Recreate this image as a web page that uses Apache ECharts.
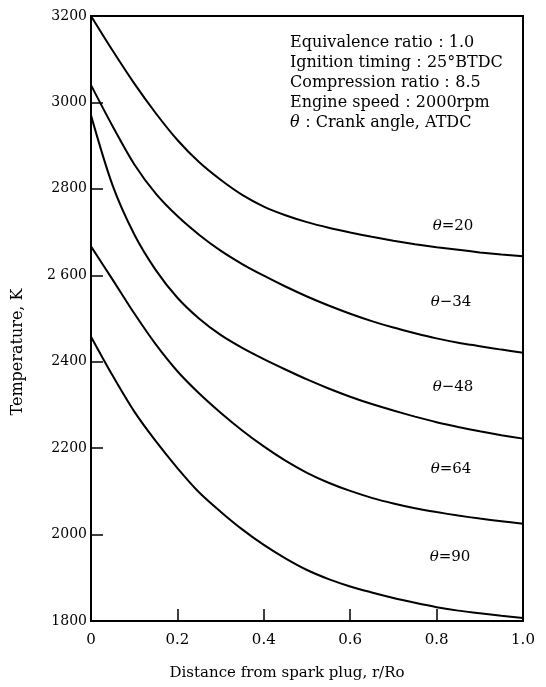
<!DOCTYPE html>
<html>
<head>
<meta charset="utf-8">
<script src="https://cdn.jsdelivr.net/npm/echarts@6/dist/echarts.min.js"></script>
<style>html,body{margin:0;padding:0;background:#fff;}#c{width:546px;height:687px;}</style>
</head>
<body>
<div id="c"></div>
<script>
// Distance from spark plug r/Ro (shared) and temperature K for each crank angle
const rVals = [0, 0.05, 0.1, 0.15, 0.2, 0.25, 0.3, 0.35, 0.4, 0.45, 0.5, 0.55, 0.6, 0.65, 0.7, 0.75, 0.8, 0.85, 0.9, 0.95, 1.0];
const t20 = [3200, 3120, 3044, 2975, 2913, 2862, 2821, 2786, 2759, 2739, 2723, 2710, 2699, 2689, 2680, 2672, 2665, 2659, 2653, 2648, 2644];
const t34 = [3040, 2945, 2857, 2789, 2737, 2694, 2657, 2626, 2599, 2574, 2551, 2530, 2511, 2494, 2479, 2466, 2454, 2444, 2436, 2428, 2421];
const t48 = [2970, 2808, 2695, 2612, 2548, 2500, 2462, 2432, 2406, 2382, 2359, 2338, 2319, 2302, 2287, 2273, 2260, 2249, 2239, 2230, 2222];
const t64 = [2667, 2590, 2512, 2440, 2378, 2327, 2282, 2241, 2204, 2171, 2143, 2120, 2101, 2085, 2072, 2061, 2052, 2044, 2037, 2031, 2025];
const t90 = [2458, 2368, 2285, 2216, 2154, 2098, 2053, 2012, 1976, 1945, 1918, 1897, 1880, 1866, 1853, 1842, 1832, 1824, 1818, 1812, 1807];

const xTicks = [0, 0.2, 0.4, 0.6, 0.8, 1.0];
const xTickLabels = ['0', '0.2', '0.4', '0.6', '0.8', '1.0'];
const yTicks = [1800, 2000, 2200, 2400, 2600, 2800, 3000, 3200];
const yTickLabels = ['1800', '2000', '2200', '2400', '2 600', '2800', '3000', '3200'];

const curveLabels = ['θ=20', 'θ−34', 'θ−48', 'θ=64', 'θ=90'];
const infoLines = ['Equivalence ratio：1.0', 'Ignition timing：25°BTDC', 'Compression ratio：8.5', 'Engine speed：2000rpm'];
const infoLast = 'Crank angle, ATDC';
const xName = 'Distance from spark plug, r/Ro';
const yName = 'Temperature, K';

const FONT = 'DejaVu Serif';
function pairs(r, t) { return r.map((v, i) => [v, t[i]]); }
const curves = [t20, t34, t48, t64, t90];

const chart = echarts.init(document.getElementById('c'), null, { renderer: 'canvas' });

const labelPos = [[453, 226], [451, 302], [453, 387], [451, 469], [450, 557]];

const option = {
  backgroundColor: '#fff',
  animation: false,
  grid: { left: 91, right: 23, top: 16, bottom: 66, show: true, borderColor: '#000', borderWidth: 2, backgroundColor: 'transparent' },
  xAxis: {
    type: 'value', min: 0, max: 1, interval: 0.2,
    axisLine: { show: true, lineStyle: { color: '#000', width: 2 } },
    axisTick: { show: true, inside: true, length: 12, lineStyle: { color: '#000', width: 1.5 } },
    splitLine: { show: false },
    axisLabel: {
      color: '#000', fontFamily: FONT, fontSize: 15, margin: 12,
      formatter: v => { const i = xTicks.findIndex(t => Math.abs(t - v) < 1e-6); return i >= 0 ? xTickLabels[i] : ''; }
    }
  },
  yAxis: {
    type: 'value', min: 1800, max: 3200, interval: 200,
    axisLine: { show: true, lineStyle: { color: '#000', width: 2 } },
    axisTick: { show: true, inside: true, length: 12, lineStyle: { color: '#000', width: 1.5 } },
    splitLine: { show: false },
    axisLabel: {
      color: '#000', fontFamily: FONT, fontSize: 14, margin: 4,
      formatter: v => { const i = yTicks.indexOf(v); return i >= 0 ? yTickLabels[i] : ''; }
    }
  },
  series: curves.map(t => ({
    type: 'line', data: pairs(rVals, t), smooth: 0.3, symbol: 'none',
    lineStyle: { color: '#000', width: 2 }
  })),
  graphic: [
    {
      type: 'text', left: 290, top: 33,
      style: {
        text: infoLines.join('\n') + '\n{i|θ}：' + infoLast,
        fontFamily: FONT, fontSize: 16, lineHeight: 20, fill: '#000',
        rich: { i: { fontStyle: 'italic', fontFamily: FONT, fontSize: 16, lineHeight: 20 } }
      }
    },
    {
      type: 'text', x: 18, y: 352, rotation: Math.PI / 2,
      style: { text: yName, fontFamily: FONT, fontSize: 16, fill: '#000', align: 'center', verticalAlign: 'middle' }
    },
    {
      type: 'text', x: 287, y: 673,
      style: { text: xName, fontFamily: FONT, fontSize: 15, fill: '#000', align: 'center', verticalAlign: 'middle' }
    }
  ].concat(curveLabels.map((t, i) => ({
    type: 'text', x: labelPos[i][0], y: labelPos[i][1],
    style: {
      text: '{i|θ}' + t.slice(1), fontFamily: FONT, fontSize: 15, fill: '#000', align: 'center', verticalAlign: 'middle',
      rich: { i: { fontStyle: 'italic', fontFamily: FONT, fontSize: 15 } }
    }
  })))
};
chart.setOption(option);
</script>
</body>
</html>
